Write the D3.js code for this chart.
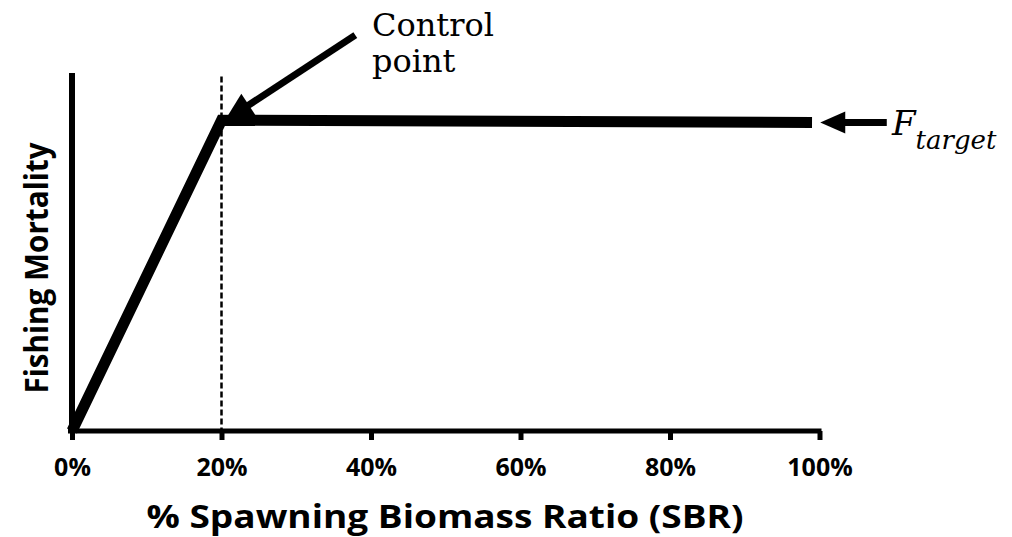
<!DOCTYPE html>
<html>
<head>
<meta charset="utf-8">
<script src="https://cdn.jsdelivr.net/npm/d3@7"></script>
<style>
  body { margin: 0; background: #fff; }
  svg { display: block; }
</style>
</head>
<body>
<div id="chart"></div>
<script>
// harvest control rule: F vs SBR
const sbr = [0, 20, 99];            // % spawning biomass ratio
const fishing = [0, 0.868, 0.862];  // relative fishing mortality
const controlPoint = 20;
const fTarget = 0.862;
const xTicks = [0, 20, 40, 60, 80, 100];

const width = 1012, height = 537;
const margin = { top: 73, right: 192.5, bottom: 106, left: 72 };

const x = d3.scaleLinear().domain([0, 100]).range([margin.left, width - margin.right]);
const y = d3.scaleLinear().domain([0, 1]).range([height - margin.bottom, margin.top]);

const svg = d3.select("#chart").append("svg")
  .attr("width", width)
  .attr("height", height);

// y axis, no ticks
svg.append("line")
  .attr("x1", x(0)).attr("x2", x(0))
  .attr("y1", y(1)).attr("y2", y(0) + 2)
  .attr("stroke", "black")
  .attr("stroke-width", 6);

// x axis
const xAxis = svg.append("g")
  .attr("transform", `translate(0,${y(0)})`)
  .call(d3.axisBottom(x).tickValues(xTicks).tickSize(9).tickSizeOuter(0).tickPadding(18)
    .tickFormat(d => d + "%"));
xAxis.select(".domain")
  .attr("stroke-width", 5)
  .attr("d", `M${x(0) - 4},0H${x(100) + 2}`);
xAxis.selectAll(".tick line").attr("stroke-width", 5);
xAxis.selectAll(".tick text")
  .style("font-family", "'Open Sans', sans-serif")
  .style("font-weight", "bold")
  .style("font-size", "25px")
  .attr("fill", "black");

// dashed line at the control point
svg.append("line")
  .attr("x1", x(controlPoint)).attr("x2", x(controlPoint))
  .attr("y1", y(0.99)).attr("y2", y(0))
  .attr("stroke", "black")
  .attr("stroke-width", 2.5)
  .attr("stroke-dasharray", "6,3");

// the rule itself
const line = d3.line()
  .x((d, i) => x(sbr[i]))
  .y(d => y(d));
svg.append("path")
  .datum(fishing)
  .attr("d", line)
  .attr("fill", "none")
  .attr("stroke", "black")
  .attr("stroke-width", 11)
  .attr("stroke-linejoin", "miter");

// arrows drawn as shaft + triangle head
function arrow(x0, y0, x1, y1, headLen, headW, shaftW) {
  const dx = x1 - x0, dy = y1 - y0;
  const len = Math.hypot(dx, dy);
  const ux = dx / len, uy = dy / len;
  const bx = x1 - ux * headLen, by = y1 - uy * headLen;
  svg.append("line")
    .attr("x1", x0).attr("y1", y0)
    .attr("x2", bx + ux * 2).attr("y2", by + uy * 2)
    .attr("stroke", "black")
    .attr("stroke-width", shaftW);
  const px = -uy * headW / 2, py = ux * headW / 2;
  svg.append("path")
    .attr("d", `M${x1},${y1}L${bx + px},${by + py}L${bx - px},${by - py}Z`)
    .attr("fill", "black");
}

// control point arrow
arrow(x(37.9), y(1.106), x(20.4), y(0.866), 29, 27, 7);
// F target arrow
arrow(x(109), y(fTarget), x(100.1), y(fTarget), 25, 22, 7);

// annotation text
const serif = "'DejaVu Serif', serif";
svg.append("text")
  .attr("x", 372).attr("y", 36)
  .style("font-family", serif)
  .style("font-size", "32px")
  .text("Control");
svg.append("text")
  .attr("x", 372).attr("y", 72)
  .style("font-family", serif)
  .style("font-size", "32px")
  .text("point");

const ft = svg.append("text")
  .attr("x", 892).attr("y", 135)
  .style("font-family", serif)
  .style("font-style", "italic");
ft.append("tspan").style("font-size", "34px").text("F");
ft.append("tspan").attr("dy", 14).style("font-size", "26px").text("target");

// axis titles
svg.append("text")
  .attr("x", 445).attr("y", 528)
  .attr("text-anchor", "middle")
  .attr("textLength", 597)
  .attr("lengthAdjust", "spacingAndGlyphs")
  .style("font-family", "'Open Sans', sans-serif")
  .style("font-weight", "bold")
  .style("font-size", "32px")
  .text("% Spawning Biomass Ratio (SBR)");

svg.append("text")
  .attr("transform", "translate(48,268) rotate(-90)")
  .attr("text-anchor", "middle")
  .attr("textLength", 251)
  .attr("lengthAdjust", "spacingAndGlyphs")
  .style("font-family", "'Open Sans', sans-serif")
  .style("font-weight", "bold")
  .style("font-size", "32px")
  .text("Fishing Mortality");
</script>
</body>
</html>
